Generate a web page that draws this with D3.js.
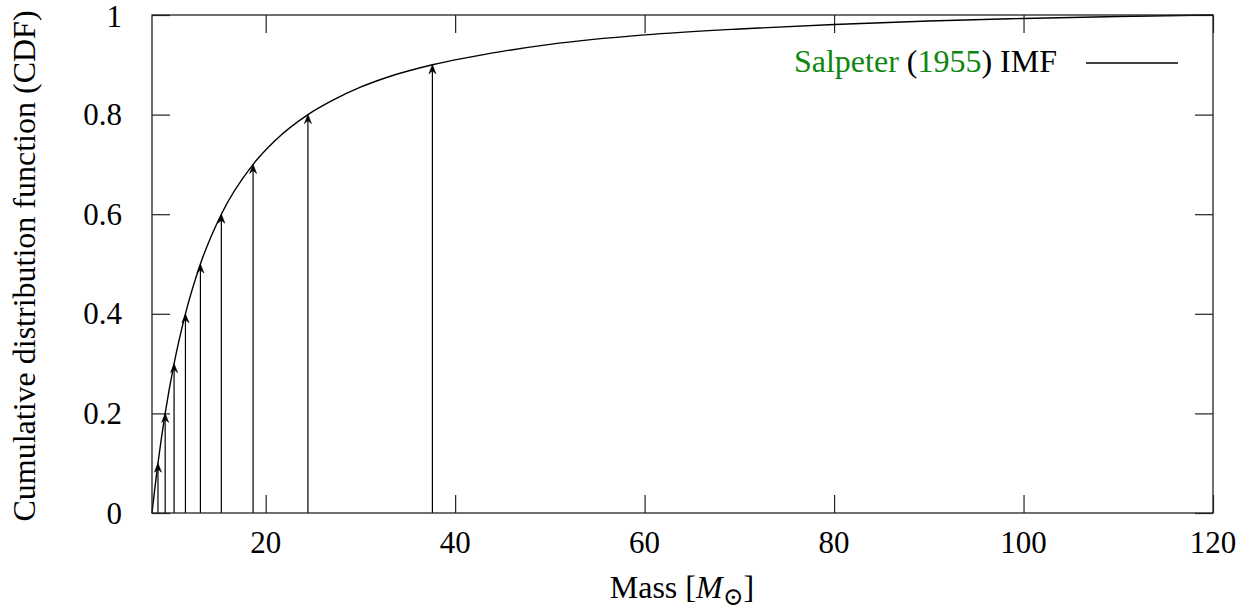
<!DOCTYPE html>
<html>
<head>
<meta charset="utf-8">
<script src="https://cdn.jsdelivr.net/npm/d3@7"></script>
<style>
  html, body { margin: 0; padding: 0; background: #fff; }
  svg text { font-family: "Liberation Serif", "DejaVu Serif", serif; fill: #000; }
</style>
</head>
<body>
<svg id="chart" width="1255" height="613"></svg>
<script>
// Cumulative distribution of the Salpeter IMF between 8 and 120 solar masses
const curveMass = [8, 8.3, 8.63, 9.39, 10.33, 11.53, 13.11, 15.32, 18.67, 21, 24.46, 27, 30, 33, 37.6, 45, 50, 60, 70, 80, 90, 100, 110, 120];
const curveCdf  = [0, 0.05, 0.1, 0.2, 0.3, 0.4, 0.5, 0.6, 0.7, 0.748, 0.8, 0.828, 0.855, 0.876, 0.9, 0.927, 0.941, 0.960, 0.972, 0.981, 0.988, 0.993, 0.997, 1];

// Masses where the CDF crosses each tenth
const arrowMass = [8.63, 9.39, 10.33, 11.53, 13.11, 15.32, 18.67, 24.46, 37.6];
const arrowCdf  = [0.1, 0.2, 0.3, 0.4, 0.5, 0.6, 0.7, 0.8, 0.9];

const xTicks = [20, 40, 60, 80, 100, 120];
const yTicks = [0, 0.2, 0.4, 0.6, 0.8, 1];
const yTickLabels = ["0", "0.2", "0.4", "0.6", "0.8", "1"];

const svg = d3.select("#chart");
const plotLeft = 152, plotRight = 1213, plotTop = 15, plotBottom = 513;
const tickLen = 18;

const x = d3.scaleLinear().domain([8, 120]).range([plotLeft, plotRight]);
const y = d3.scaleLinear().domain([0, 1]).range([plotBottom, plotTop]);

const frameColor = "#222";

// Inward ticks on all four sides
const axisBottom = d3.axisBottom(x).tickValues(xTicks).tickSizeInner(-tickLen).tickSizeOuter(0).tickFormat("");
const axisTop = d3.axisTop(x).tickValues(xTicks).tickSizeInner(-tickLen).tickSizeOuter(0).tickFormat("");
const axisLeft = d3.axisLeft(y).tickValues(yTicks).tickSizeInner(-tickLen).tickSizeOuter(0).tickFormat("");
const axisRight = d3.axisRight(y).tickValues(yTicks).tickSizeInner(-tickLen).tickSizeOuter(0).tickFormat("");

function styleAxis(g) {
  g.select(".domain").remove();
  g.selectAll(".tick line").attr("stroke", frameColor).attr("stroke-width", 1.2);
}
svg.append("g").attr("transform", `translate(0,${plotBottom})`).call(axisBottom).call(styleAxis);
svg.append("g").attr("transform", `translate(0,${plotTop})`).call(axisTop).call(styleAxis);
svg.append("g").attr("transform", `translate(${plotLeft},0)`).call(axisLeft).call(styleAxis);
svg.append("g").attr("transform", `translate(${plotRight},0)`).call(axisRight).call(styleAxis);

// Tick labels
svg.append("g").selectAll("text").data(xTicks).join("text")
  .attr("x", d => x(d)).attr("y", 553)
  .attr("text-anchor", "middle").attr("font-size", 31)
  .text(d => d);

svg.append("g").selectAll("text").data(yTicks).join("text")
  .attr("x", 122).attr("y", d => Math.max(y(d) + 10.5, 27))
  .attr("text-anchor", "end").attr("font-size", 31)
  .text((d, i) => yTickLabels[i]);

// Arrows from the mass axis up to the curve
const arrows = svg.append("g");
arrowMass.forEach((m, i) => {
  const ax = x(m), ay = y(arrowCdf[i]);
  arrows.append("line")
    .attr("x1", ax).attr("x2", ax).attr("y1", y(0)).attr("y2", ay + 2)
    .attr("stroke", "#000").attr("stroke-width", 1.2);
  arrows.append("path")
    .attr("d", `M${ax},${ay} L${ax - 3.5},${ay + 9} L${ax},${ay + 6} L${ax + 3.5},${ay + 9} Z`)
    .attr("fill", "#000").attr("stroke", "#000").attr("stroke-width", 0.6)
    .attr("stroke-linejoin", "miter");
});

// CDF curve
const pts = curveMass.map((m, i) => [m, curveCdf[i]]);
svg.append("path")
  .datum(pts)
  .attr("fill", "none").attr("stroke", "#000").attr("stroke-width", 1.4)
  .attr("d", d3.line().x(d => x(d[0])).y(d => y(d[1])).curve(d3.curveMonotoneX));

// Frame
svg.append("rect")
  .attr("x", plotLeft).attr("y", plotTop).attr("width", plotRight - plotLeft).attr("height", plotBottom - plotTop)
  .attr("fill", "none").attr("stroke", frameColor).attr("stroke-width", 1.3);

// Legend
const green = "#0d870d";
const leg = svg.append("text").attr("x", 1057).attr("y", 72).attr("text-anchor", "end").attr("font-size", 32);
leg.append("tspan").attr("fill", green).text("Salpeter");
leg.append("tspan").text(" (");
leg.append("tspan").attr("fill", green).text("1955");
leg.append("tspan").text(") IMF");
svg.append("line").attr("x1", 1086).attr("x2", 1178).attr("y1", 63).attr("y2", 63)
  .attr("stroke", "#000").attr("stroke-width", 1.3);

// Axis titles
const xt = svg.append("text").attr("x", 682).attr("y", 598).attr("text-anchor", "middle").attr("font-size", 32);
xt.append("tspan").text("Mass [");
xt.append("tspan").attr("font-style", "italic").text("M");
xt.append("tspan").attr("font-size", 25).attr("dy", 7).text("\u2299");
xt.append("tspan").attr("dy", -7).text("]");

svg.append("text")
  .attr("transform", "translate(35,266) rotate(-90)")
  .attr("text-anchor", "middle").attr("font-size", 32)
  .text("Cumulative distribution function (CDF)");
</script>
</body>
</html>
